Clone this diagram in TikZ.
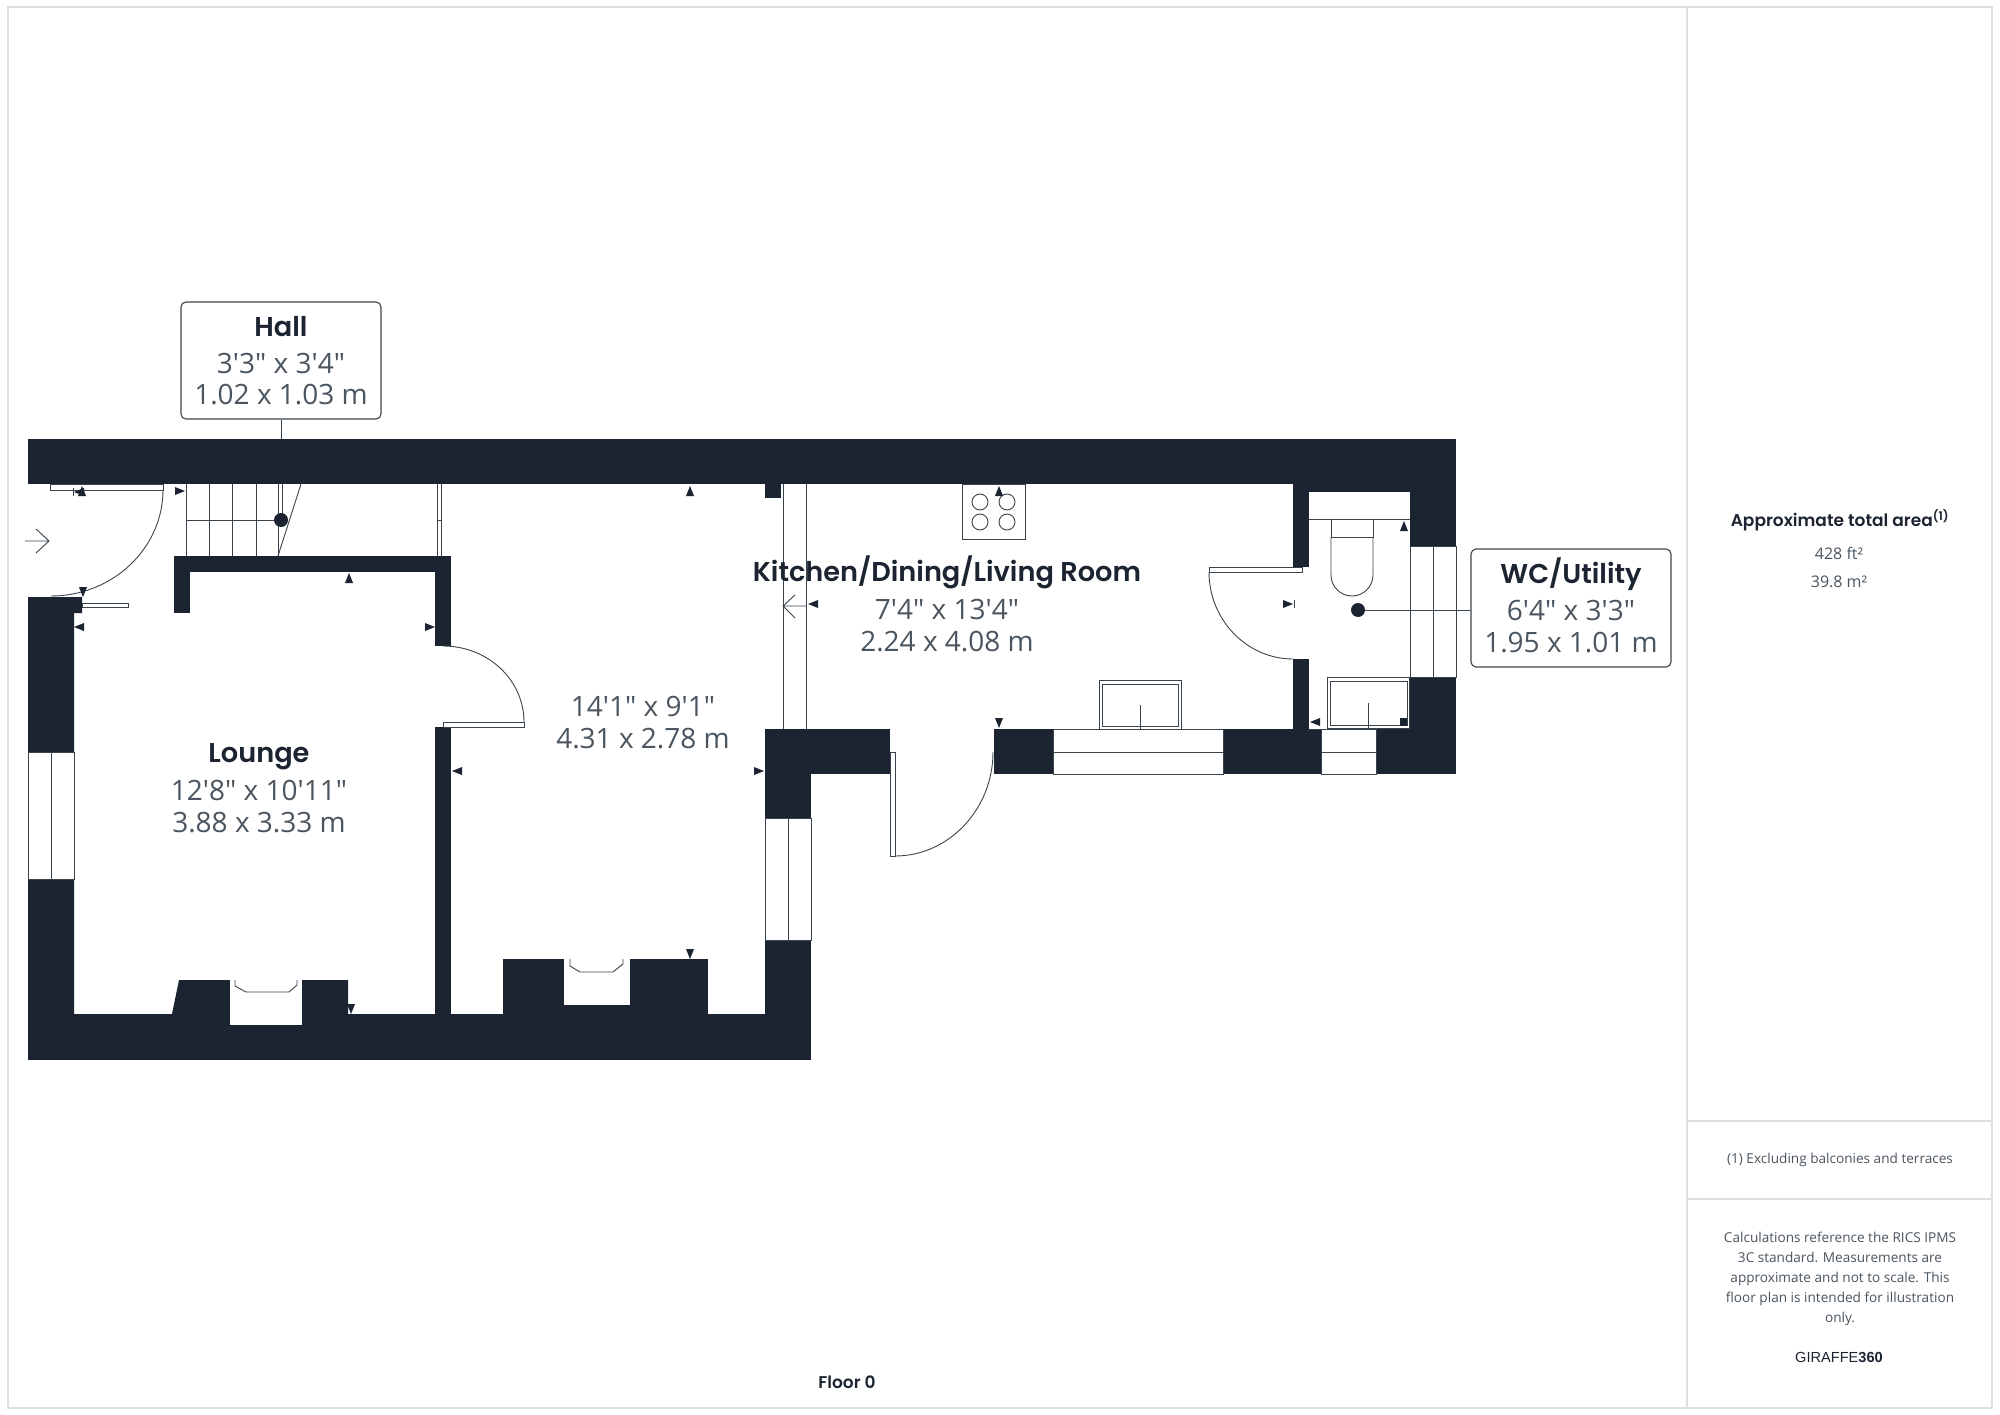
\documentclass[tikz,border=0pt]{standalone}
\usepackage{fontspec}
\setmainfont{Open Sans}[Ligatures=TeXOff]
\newfontfamily\ttl{Poppins}[UprightFont=* SemiBold]
\newfontfamily\gir{Liberation Sans}
\definecolor{wallc}{HTML}{1B2430}
\definecolor{dimc}{HTML}{4B5560}
\definecolor{linec}{HTML}{3A444E}
\definecolor{framec}{HTML}{DDE0E3}
\tikzset{
 wall/.style={fill=wallc,draw=none},
 thin line/.style={draw=linec,line width=0.9pt},
 win/.style={fill=white,draw=linec,line width=0.6pt},
 leaf/.style={fill=white,draw=linec,line width=0.9pt},
 tag/.style={draw=linec,line width=1.1pt,fill=white,rounded corners=5pt,align=center,inner sep=0pt,
   minimum width=200pt,font=\fontsize{28}{31.3}\selectfont,text=dimc},
 room/.style={align=center,inner sep=0pt,font=\fontsize{28}{32}\selectfont,text=dimc},
 panel/.style={align=center,inner sep=0pt,text=dimc,font=\fontsize{13.6}{20}\selectfont},
 frameline/.style={draw=framec,line width=1.6pt},
 pin/.style={circle,fill=wallc,inner sep=0pt,minimum size=14pt},
 lead/.style={draw=linec,line width=1pt}
}
\newcommand\titl[1]{{\ttl\fontsize{27.2}{32}\selectfont\color{wallc}\rule[-8pt]{0pt}{28pt}\smash{#1}}}
\newcommand\tU[2]{\fill[wallc] (#1,#2)--(#1-4,#2+10)--(#1+4,#2+10)--cycle;}
\newcommand\tD[2]{\fill[wallc] (#1,#2)--(#1-4,#2-10)--(#1+4,#2-10)--cycle;}
\newcommand\tL[2]{\fill[wallc] (#1,#2)--(#1+10,#2-4)--(#1+10,#2+4)--cycle;}
\newcommand\tR[2]{\fill[wallc] (#1,#2)--(#1-10,#2-4)--(#1-10,#2+4)--cycle;}
\begin{document}
\begin{tikzpicture}[x=1pt,y=-1pt]
\useasboundingbox (0,0) rectangle (2000,1415);
\fill[white] (0,0) rectangle (2000,1415);
% frame
\draw[frameline] (8,7) rectangle (1992,1408);
\draw[frameline] (1687,7) -- (1687,1408);
\draw[frameline] (1687,1121) -- (1992,1121);
\draw[frameline] (1687,1199) -- (1992,1199);
% walls
\fill[wall] (28,439) rectangle (1456,484);
\fill[wall] (1293,484) rectangle (1456,492);
\fill[wall] (1293,492) rectangle (1309,567);
\fill[wall] (1410,492) rectangle (1456,774);
\fill[wall] (1293,659) rectangle (1309,729);
\fill[wall] (994,729) rectangle (1456,774);
\fill[wall] (765,729) rectangle (890,774);
\fill[wall] (765,729) rectangle (811,1060);
\fill[wall] (765,484) rectangle (781,498);
\fill[wall] (28,1014) rectangle (811,1060);
\fill[wall] (28,597) -- (82,597) -- (82,613) -- (74,613) -- (74,1014) -- (28,1014) -- cycle;
\fill[wall] (174,556) rectangle (451,572);
\fill[wall] (174,572) rectangle (190,613);
\fill[wall] (435,572) rectangle (451,646);
\fill[wall] (435,727) rectangle (451,1014);
\fill[wall] (179,980) -- (348,980) -- (348,1014) -- (172,1014) -- cycle;
\fill[wall] (503,959) rectangle (708,1014);
% windows
\draw[win] (28,752) rectangle (74,879); \draw[thin line] (51,752) -- (51,879);
\draw[win] (765,818) rectangle (811,940); \draw[thin line] (788,818) -- (788,940);
\draw[win] (1053,729) rectangle (1223,774); \draw[thin line] (1053,752) -- (1223,752);
\draw[win] (1321,729) rectangle (1376,774); \draw[thin line] (1321,752) -- (1376,752) (1309,729) -- (1321,729);
\draw[win] (1410,546) rectangle (1456,677); \draw[thin line] (1433,546) -- (1433,677) (1410,546) -- (1410,677);
% fireplaces
\fill[white] (230,980) rectangle (302,1025);
\draw[thin line] (235,980) -- (235,986) -- (246,992) -- (289,992) -- (297,985) -- (297,980);
\fill[white] (564,959) rectangle (630,1005);
\draw[thin line] (570,959) -- (570,966) -- (580,972) -- (613,972) -- (623,964) -- (623,959);
% doors
\draw[leaf] (50,484) rectangle (163,490);
\draw[thin line] (163,490) .. controls (163,548) and (113,596) .. (51,596);
\draw[leaf] (82,603) rectangle (128,607);
\draw[leaf] (443,722) rectangle (524,727);
\draw[thin line] (443,646) .. controls (488,646) and (524,680) .. (524,722);
\draw[leaf] (1209,567) rectangle (1302,572);
\draw[thin line] (1209,572) .. controls (1209,620) and (1247,659) .. (1293,659);
\draw[leaf] (890,752) rectangle (895,856);
\draw[thin line] (895,856) .. controls (949,856) and (993,809) .. (993,752);
% stairs
\foreach \sx in {186,209,232,256,278}{\draw[thin line] (\sx,484) -- (\sx,556);}
\draw[thin line] (186,520) -- (281,520);
\draw[thin line] (301,484) -- (278,556);
\draw[thin line] (282,484) -- (282,520);
% partition and open arch
\draw[thin line,line width=0.7pt] (437,484) -- (437,556);
\draw[thin line,line width=0.7pt] (441,484) -- (441,556);
\draw[thin line,line width=0.7pt] (437,520) -- (441,520);
\draw[thin line] (783,484) -- (783,729);
\draw[thin line] (806,484) -- (806,729);
% entrance arrows
\draw[thin line] (25,541) -- (49,541) (36,529) -- (49,541) -- (36,553);
\draw[thin line] (806,606) -- (783,606) (795,595) -- (783,606) -- (795,618);
% hob
\draw[thin line] (962,484) rectangle (1025,539);
\foreach \hx/\hy in {980/502,1007/502,980/522,1007/522}{\draw[thin line] (\hx,\hy) circle (8);}
% sinks
\draw[thin line] (1099,680) rectangle (1181,729);
\draw[thin line] (1102,684) rectangle (1178,726);
\draw[thin line] (1140,705) -- (1140,729);
\draw[thin line] (1327,677) rectangle (1409,728);
\draw[thin line] (1330,681) rectangle (1407,725);
\draw[thin line] (1368,703) -- (1368,728);
% toilet
\draw[thin line] (1309,519) -- (1410,519);
\draw[thin line] (1331,519) rectangle (1373,537);
\draw[thin line] (1331,537) -- (1331,575) arc[start angle=180,end angle=0,radius=21] -- (1373,537);
% ticks
\tU{82}{486} \draw[thin line] (73,488) -- (73,496); \tL{74}{492}
\tR{185}{491} \tU{349}{573} \tD{83}{597} \tL{74}{627} \tR{435}{627}
\tU{690}{486} \tL{452}{771} \tR{764}{771} \tL{808}{604}
\tD{351}{1014} \tD{690}{959} \tU{999}{486} \tD{999}{728}
\tR{1293}{604} \draw[thin line] (1294,600) -- (1294,608);
\tL{1310}{722} \tU{1404}{521}
\fill[wallc] (1400,718) rectangle (1407,726);
% room texts
\node[room] (kit) at (947,607) {\titl{Kitchen/Dining/Living Room}\\[6pt]7'4" x 13'4"\\2.24 x 4.08 m};
\node[room] (big) at (643,723) {14'1" x 9'1"\\4.31 x 2.78 m};
\node[room] (lou) at (259,788) {\titl{Lounge}\\[6pt]12'8" x 10'11"\\3.88 x 3.33 m};
% labels with leaders
\node[tag,minimum height=117pt] (hall) at (281,360.5) {\titl{Hall}\\[6pt]3'3" x 3'4"\\1.02 x 1.03 m};
\coordinate (hallwall) at (281,439);
\node[pin] (halldot) at (281,520) {};
\draw[lead] (hall.south) -- (hallwall);
\node[tag,minimum height=118pt] (wc) at (1571,608) {\titl{WC/Utility}\\[6pt]6'4" x 3'3"\\1.95 x 1.01 m};
\node[pin] (wcdot) at (1358,610) {};
\draw[lead] (wcdot) -- (wcdot -| wc.west);
% panel
\node[panel,font=\ttl\fontsize{17}{20}\selectfont,text=wallc] (area) at (1840,520) {Approximate total area\textsuperscript{(1)}};
\node[panel,font=\fontsize{16}{20}\selectfont] (ft) at (1839,553) {428 ft²};
\node[panel,font=\fontsize{16}{20}\selectfont] (msq) at (1839,582) {39.8 m²};
\node[panel] (excl) at (1840,1160) {(1) Excluding balconies and terraces};
\node[panel] (calc) at (1840,1278.5) {Calculations reference the RICS IPMS\\3C standard. Measurements are\\approximate and not to scale. This\\floor plan is intended for illustration\\only.};
\node[panel,text=wallc,font=\gir\fontsize{14.6}{18}\selectfont] (gir) at (1839,1357) {GIRAFFE\textbf{360}};
\node[panel,text=wallc,font=\ttl\fontsize{17}{20}\selectfont] (floor) at (847,1382) {Floor 0};
\end{tikzpicture}
\end{document}
